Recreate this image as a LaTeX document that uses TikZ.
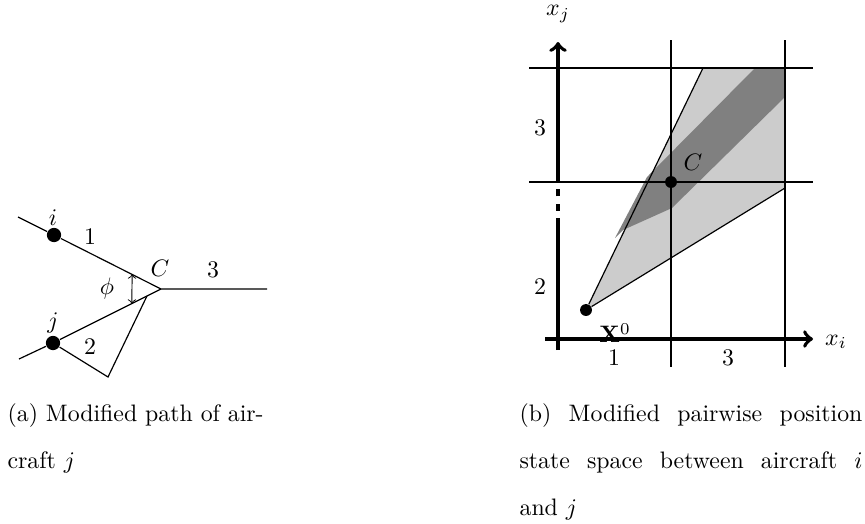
\documentclass[tikz,border=0pt]{standalone}
\usetikzlibrary{calc}
\begin{document}
\begin{tikzpicture}[
  x=0.42pt, y=-0.42pt,
  line width=0.5pt,
  dot/.style={circle, fill, inner sep=0pt, minimum size=6pt},
  axis/.style={line width=1.6pt},
  light/.style={fill=black!20},
  dark/.style={fill=black!50},
  caption/.style={anchor=north west, inner sep=0pt, font=\linespread{1.65}\selectfont},
]
  \useasboundingbox (0,0) rectangle (865,523);

  % (a) trayectorias
  \coordinate (is) at (18,217);
  \node[dot] (i) at (54,235) {};
  \coordinate (C) at (161,289);
  \coordinate (e3) at (267,289);
  \coordinate (js) at (19,359);
  \node[dot] (j) at (53,343) {};
  \coordinate (k) at (108,377);
  \coordinate (m) at ($(j)!0.87!(C)$);
  \coordinate (phi1) at ($(i)!0.73!(C)$);
  \coordinate (phi2) at ($(j)!0.73!(C)$);

  \draw (is) -- (i) -- (C) -- (e3);
  \draw (js) -- (j) -- (C);
  \draw (j) -- (k) -- (m);
  \draw[<->, line width=0.4pt] (phi1) -- (phi2);

  \node (li) at (53,218) {$i$};
  \node (lj) at (53,323) {$j$};
  \node (l1) at (90,237) {1};
  \node (l2) at (90,347) {2};
  \node (l3) at (213,270) {3};
  \node (lC) at (160,268) {$C$};
  \node (lphi) at (107,289) {$\phi$};

  \node[caption, align=left] (capa) at (7,403) {(a) Modified path of air-\\craft $j$};

  % (b) espacio de estados
  \fill[light] (586,310) -- (703,68) -- (785,68) -- (785,188) -- cycle;
  \fill[dark] (615,238) -- (647,177) -- (755,68) -- (785,68) -- (785,97)
    -- (672,208) -- (623,230) -- cycle;

  \foreach \x in {671,785}
    \draw (\x,40) -- (\x,367);
  \foreach \y in {68,182}
    \draw (529,\y) -- (813,\y);

  \coordinate (xs) at (545,339);
  \coordinate (xe) at (813,339);
  \coordinate (yb) at (558,350);
  \coordinate (yd1) at (558,225);
  \coordinate (yd2) at (558,182);
  \coordinate (ye) at (558,42);
  \draw[axis, ->] (xs) -- (xe);
  \draw[axis] (yb) -- (yd1);
  \draw[axis, dashed] (yd1) -- (yd2);
  \draw[axis, ->] (yd2) -- (ye);

  \node[dot, minimum size=5pt] (x0) at (586,310) {};
  \node[dot, minimum size=5pt] (c) at (671,182) {};
  \coordinate (up) at (703,68);
  \coordinate (lo) at (785,188);
  \draw (x0) -- (up);
  \draw (x0) -- (lo);

  \node (xj) at (558,14) {$x_j$};
  \node (xi) at (836,342) {$x_i$};
  \node (t3y) at (540,128) {3};
  \node (t2y) at (540,287) {2};
  \node (t1x) at (614,358) {1};
  \node (t3x) at (728,358) {3};
  \node (lX) at (615,333) {$\mathbf{X}^0$};
  \node (lc) at (693,162) {$C$};

  \node[caption, text width=144pt, align=justify] (capb) at (519,403)
    {(b) Modified pairwise position\linebreak state space between aircraft $i$\linebreak and $j$};
\end{tikzpicture}
\end{document}
